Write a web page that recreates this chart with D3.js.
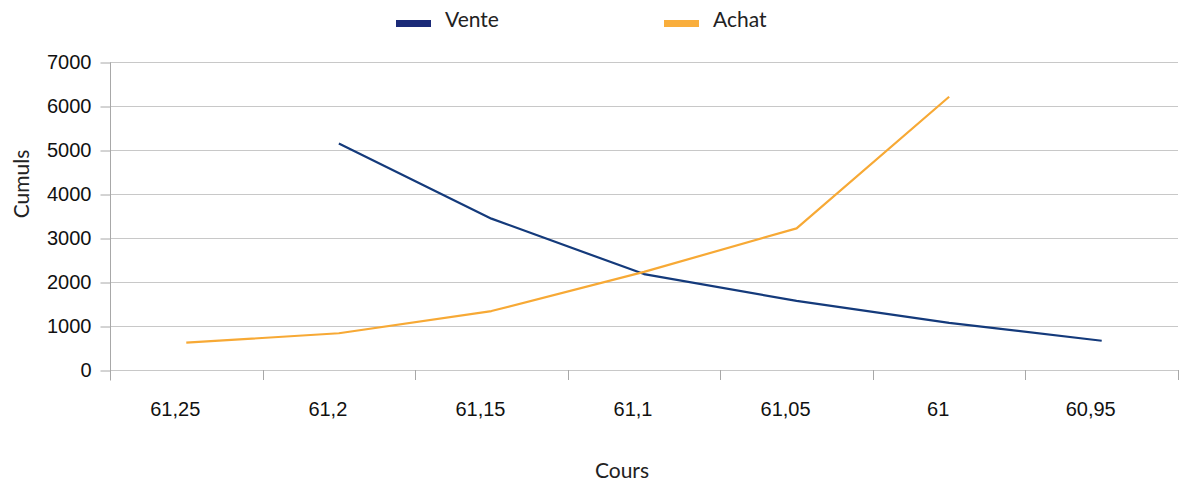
<!DOCTYPE html>
<html>
<head>
<meta charset="utf-8">
<script src="https://cdn.jsdelivr.net/npm/d3@7"></script>
<style>
  html, body { margin: 0; padding: 0; background: #fff; }
  svg { display: block; }
</style>
</head>
<body>
<div id="chart"></div>
<script>
// data
var cours = ['61,25', '61,2', '61,15', '61,1', '61,05', '61', '60,95']
var vente = [null, 5150, 3440, 2180, 1570, 1070, 665]
var achat = [620, 835, 1340, 2230, 3220, 6210, null]
var yTicks = [0, 1000, 2000, 3000, 4000, 5000, 6000, 7000]

var width = 1179
var height = 479
var plotLeft = 110
var plotRight = 1178
var plotTop = 62
var plotBottom = 370

var svg = d3.select('#chart')
  .append('svg')
  .attr('width', width)
  .attr('height', height)

var x = d3.scaleBand()
  .domain(cours)
  .range([plotLeft, plotRight])

var y = d3.scaleLinear()
  .domain([0, 7000])
  .range([plotBottom, plotTop])

// grid lines
svg.append('g')
  .selectAll('line')
  .data(yTicks)
  .enter()
  .append('line')
  .attr('x1', plotLeft)
  .attr('x2', plotRight)
  .attr('y1', function(d) { return Math.round(y(d)) + 0.5 })
  .attr('y2', function(d) { return Math.round(y(d)) + 0.5 })
  .attr('stroke', '#c8c8c8')

// y axis
var yAxis = svg.append('g')
  .attr('transform', 'translate(' + (plotLeft + 0.5) + ',0.5)')
  .call(d3.axisLeft(y).tickValues(yTicks).tickSize(10).tickPadding(9).tickFormat(d3.format('d')))
yAxis.select('.domain').remove()
yAxis.append('line')
  .attr('y1', plotTop)
  .attr('y2', plotBottom + 10)
  .attr('stroke', '#a8a8a8')
yAxis.selectAll('.tick line').attr('stroke', '#a8a8a8')
yAxis.selectAll('text')
  .attr('fill', '#111')
  .style('font-family', '"Liberation Sans", Arial, sans-serif')
  .style('font-size', '20px')

// x axis ticks (between categories)
var xb = svg.append('g')
xb.selectAll('line')
  .data(cours.concat(['end']))
  .enter()
  .append('line')
  .attr('x1', function(d, i) { return Math.round(plotLeft + i * x.step()) + 0.5 })
  .attr('x2', function(d, i) { return Math.round(plotLeft + i * x.step()) + 0.5 })
  .attr('y1', plotBottom)
  .attr('y2', plotBottom + 10)
  .attr('stroke', '#a8a8a8')

xb.selectAll('text')
  .data(cours)
  .enter()
  .append('text')
  .attr('x', function(d) { return x(d) + x.bandwidth() / 2 - 11 })
  .attr('y', 416)
  .attr('text-anchor', 'middle')
  .attr('fill', '#111')
  .style('font-family', '"Liberation Sans", Arial, sans-serif')
  .style('font-size', '20px')
  .text(function(d) { return d })

// lines
function drawLine(values, color) {
  var line = d3.line()
    .defined(function(d) { return d !== null })
    .x(function(d, i) { return x(cours[i]) + x.bandwidth() / 2 })
    .y(function(d) { return y(d) })
  svg.append('path')
    .datum(values)
    .attr('d', line)
    .attr('fill', 'none')
    .attr('stroke', color)
    .attr('stroke-width', 2.2)
    .attr('stroke-linejoin', 'round')
}
drawLine(vente, '#143a7b')
drawLine(achat, '#f7a935')

// axis titles
var titleFont = 'Lato, "Open Sans", sans-serif'
svg.append('text')
  .attr('x', 622)
  .attr('y', 478)
  .attr('text-anchor', 'middle')
  .attr('fill', '#222')
  .style('font-family', titleFont)
  .style('font-size', '21px')
  .text('Cours')

svg.append('text')
  .attr('transform', 'translate(29,184) rotate(-90)')
  .attr('text-anchor', 'middle')
  .attr('fill', '#222')
  .style('font-family', titleFont)
  .style('font-size', '21px')
  .text('Cumuls')

// legend
var legend = [
  { name: 'Vente', color: '#1b2a78', x: 396 },
  { name: 'Achat', color: '#f9ae3c', x: 664 }
]
var lg = svg.append('g')
  .selectAll('g')
  .data(legend)
  .enter()
  .append('g')
  .attr('transform', function(d) { return 'translate(' + d.x + ',0)' })
lg.append('rect')
  .attr('x', 0)
  .attr('y', 20)
  .attr('width', 35)
  .attr('height', 7)
  .attr('fill', function(d) { return d.color })
lg.append('text')
  .attr('x', 49)
  .attr('y', 27)
  .attr('fill', '#222')
  .style('font-family', titleFont)
  .style('font-size', '21px')
  .text(function(d) { return d.name })
</script>
</body>
</html>
